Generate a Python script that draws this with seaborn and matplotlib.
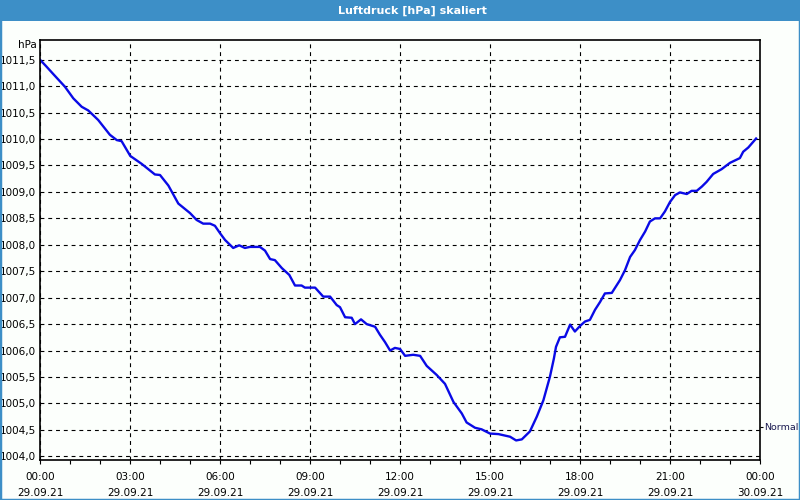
import matplotlib
matplotlib.use("Agg")
import matplotlib.pyplot as plt
from matplotlib.patches import Rectangle
from matplotlib.ticker import MultipleLocator
import seaborn as sns
import pandas as pd

title = "Luftdruck [hPa] skaliert"
unit_label = "hPa"
normal_label = "Normal"
normal_value = 1004.56

hours = [0.00, 0.20, 0.44, 0.83, 1.11, 1.39, 1.61, 1.94, 2.33, 2.56, 2.72, 3.01, 3.39, 3.83,
         4.00, 4.28, 4.61, 5.00, 5.22, 5.44, 5.67, 5.83, 6.00, 6.17, 6.44, 6.64, 6.83, 7.00,
         7.33, 7.50, 7.67, 7.83, 8.06, 8.31, 8.50, 8.72, 8.83, 9.17, 9.44, 9.67, 9.89, 10.00,
         10.17, 10.39, 10.50, 10.70, 10.89, 11.17, 11.33, 11.50, 11.67, 11.83, 12.00, 12.17,
         12.44, 12.67, 12.89, 13.22, 13.50, 13.78, 14.06, 14.22, 14.50, 14.72, 15.00, 15.28,
         15.67, 15.87, 16.06, 16.33, 16.56, 16.78, 17.00, 17.13, 17.20, 17.33, 17.50, 17.67,
         17.83, 18.01, 18.17, 18.33, 18.50, 18.67, 18.83, 19.06, 19.33, 19.50, 19.67, 19.83,
         20.00, 20.17, 20.33, 20.50, 20.67, 20.83, 21.00, 21.17, 21.33, 21.56, 21.72, 21.89,
         22.06, 22.22, 22.44, 22.72, 23.00, 23.33, 23.44, 23.61, 23.87]
pressure = [1011.50, 1011.38, 1011.23, 1010.99, 1010.77, 1010.61, 1010.54, 1010.36, 1010.08,
            1009.98, 1009.96, 1009.68, 1009.53, 1009.33, 1009.32, 1009.12, 1008.78, 1008.60,
            1008.47, 1008.40, 1008.40, 1008.36, 1008.22, 1008.09, 1007.94, 1007.99, 1007.94,
            1007.96, 1007.96, 1007.89, 1007.73, 1007.71, 1007.56, 1007.43, 1007.23, 1007.23,
            1007.19, 1007.19, 1007.02, 1007.02, 1006.86, 1006.82, 1006.63, 1006.62, 1006.50,
            1006.59, 1006.50, 1006.45, 1006.30, 1006.16, 1006.00, 1006.05, 1006.03, 1005.90,
            1005.92, 1005.90, 1005.71, 1005.54, 1005.37, 1005.03, 1004.81, 1004.64, 1004.54,
            1004.51, 1004.43, 1004.42, 1004.37, 1004.30, 1004.32, 1004.47, 1004.75, 1005.06,
            1005.51, 1005.85, 1006.07, 1006.25, 1006.26, 1006.49, 1006.36, 1006.47, 1006.55,
            1006.58, 1006.77, 1006.92, 1007.08, 1007.09, 1007.33, 1007.52, 1007.77, 1007.90,
            1008.09, 1008.25, 1008.44, 1008.50, 1008.50, 1008.63, 1008.81, 1008.94, 1008.99,
            1008.96, 1009.02, 1009.02, 1009.10, 1009.19, 1009.34, 1009.43, 1009.55, 1009.64,
            1009.76, 1009.84, 1010.01]

x_ticks = [0, 3, 6, 9, 12, 15, 18, 21, 24]
x_tick_labels = ["00:00\n29.09.21", "03:00\n29.09.21", "06:00\n29.09.21", "09:00\n29.09.21",
                 "12:00\n29.09.21", "15:00\n29.09.21", "18:00\n29.09.21", "21:00\n29.09.21",
                 "00:00\n30.09.21"]
y_ticks = [1004.0, 1004.5, 1005.0, 1005.5, 1006.0, 1006.5, 1007.0, 1007.5, 1008.0,
           1008.5, 1009.0, 1009.5, 1010.0, 1010.5, 1011.0, 1011.5]
y_tick_labels = ["1004,0", "1004,5", "1005,0", "1005,5", "1006,0", "1006,5", "1007,0", "1007,5",
                 "1008,0", "1008,5", "1009,0", "1009,5", "1010,0", "1010,5", "1011,0", "1011,5"]

plt.rcParams['font.family'] = ['DejaVu Sans']
bg = '#fcfffc'
fig = plt.figure(figsize=(8, 5), dpi=100, facecolor=bg)
ax = fig.add_axes([40/800, 40/500, 720/800, 420/500])
ax.set_facecolor(bg)

df = pd.DataFrame({"hour": hours, "hPa": pressure})
sns.lineplot(data=df, x="hour", y="hPa", ax=ax, color='#0a0ae6', linewidth=1.7,
             estimator=None, sort=False)

ax.set_xlim(0, 24)
ax.set_ylim(1003.93, 1011.873)
ax.set_xlabel("")
ax.set_ylabel("")

ax.set_xticks(x_ticks)
ax.set_xticklabels(x_tick_labels, fontsize=7.5, linespacing=1.75)
ax.xaxis.set_minor_locator(MultipleLocator(1))
ax.set_yticks(y_ticks)
ax.set_yticklabels(y_tick_labels, fontsize=7.5)
ax.tick_params(axis='x', which='both', length=3, width=0.8, direction='out', pad=6, colors='black')
ax.tick_params(axis='y', length=0, pad=3, colors='black')

ax.grid(True, which='major', color='black', linestyle=(0, (3.5, 3.5)), linewidth=0.8)
for s in ax.spines.values():
    s.set_color('black')
    s.set_linewidth(1.2)

ax2 = ax.twinx()
ax2.set_ylim(ax.get_ylim())
ax2.set_yticks([normal_value])
ax2.set_yticklabels([normal_label], fontsize=6.8)
ax2.tick_params(axis='y', length=2.5, width=0.8, pad=0.5, colors='black')
for lab in ax2.get_yticklabels():
    lab.set_color('#1a1a50')
for s in ax2.spines.values():
    s.set_visible(False)

fig.text(37/800, 1 - 45.5/500, unit_label, ha='right', va='center', fontsize=7.5, color='black')

# title bar
fig.patches.append(Rectangle((0, 1 - 21/500), 1, 21/500, transform=fig.transFigure,
                             facecolor='#3d8fc7', edgecolor='none', zorder=0))
fig.text(412/800, 1 - 10.5/500, title, ha='center', va='center', fontsize=8,
         fontweight='bold', color='white')
# window border
fig.patches.append(Rectangle((0, 0), 1, 1, transform=fig.transFigure, facecolor='none',
                             edgecolor='#3d8fc7', linewidth=2.5, zorder=5))

fig.savefig("out.png", dpi=100, facecolor=bg)
